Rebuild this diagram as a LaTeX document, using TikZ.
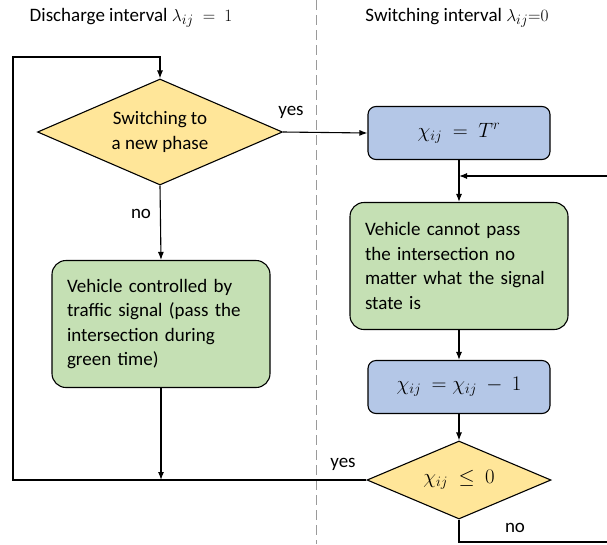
\documentclass[tikz,border=0pt]{standalone}
\usepackage{fontspec}
\setmainfont{Carlito}
\usetikzlibrary{shapes.geometric,arrows.meta}
\definecolor{decfill}{HTML}{FFE699}
\definecolor{bluefill}{HTML}{B4C7E7}
\definecolor{greenfill}{HTML}{C5E0B4}
\definecolor{divider}{HTML}{9A9A9A}
\tikzset{
  base/.style={font=\fontsize{19}{24.5}\selectfont},
  decision/.style={base, diamond, draw=black, line width=1.1pt, fill=decfill,
    inner sep=0pt, aspect=2.3, align=center},
  calcbox/.style={base, draw=black, line width=1.1pt, fill=bluefill,
    rounded corners=8pt, minimum width=182pt, minimum height=53pt},
  actbox/.style={base, draw=black, line width=1.1pt, fill=greenfill,
    rounded corners=14pt, minimum width=218pt, minimum height=127pt,
    text width=188pt, align=left, inner sep=0pt},
  arr/.style={line width=1.1pt, -{Latex[length=8pt,width=6pt]}},
  lbl/.style={base, inner sep=0pt},
  formula/.style={font=\fontsize{21}{24.5}\selectfont},
}
\begin{document}
\begin{tikzpicture}[x=1pt,y=-1pt]
\useasboundingbox (0,0) rectangle (607,544);

% column divider and headings
\draw[divider, line width=1pt, dash pattern=on 10pt off 5pt] (316,0) -- (316,544);
\node[lbl] (hl) at (131,18) {Discharge interval $\lambda_{ij}\ =\ 1$};
\node[lbl] (hr) at (457,18) {Switching interval $\lambda_{ij}{=}0$};

% left column
\node[decision, minimum width=245pt, minimum height=106pt] (d1) at (160,132)
  {Switching to\\a new phase};
\node[actbox] (g1) at (161,324)
  {Vehicle controlled by\\traffic signal (pass the\\intersection during\\green time)};

% right column
\node[calcbox, formula] (b1) at (459,133) {$\chi_{ij}\ =\ T^{r}$};
\node[actbox] (g2) at (459,266)
  {Vehicle cannot pass\\the intersection no\\matter what the signal\\state is};
\node[calcbox, formula] (b3) at (459,387) {$\chi_{ij}\ =\chi_{ij}\ -\ 1$};
\node[decision, formula, minimum width=184pt, minimum height=78pt] (d2) at (459,480)
  {$\chi_{ij}\ \le\ 0$};

% routing points
\coordinate (loopL) at (13,480);
\coordinate (loopT) at (160,57);
\coordinate (merge) at (459,176);
\coordinate (loopR) at (625,542);

% connectors
\draw[arr] (d1.east) -- (b1.west);
\draw[arr] (d1.south) -- (g1.north);
\draw[arr] (b1.south) -- (g2.north);
\draw[arr] (g2.south) -- (b3.north);
\draw[arr] (b3.south) -- (d2.north);
\draw[arr] (g1.south) -- (g1.south |- loopL);
\draw[arr] (d2.west) -- (loopL) |- (loopT) -- (d1.north);
\draw[arr] (d2.south) |- (loopR) |- (merge);

% branch labels
\node[lbl] (y1) at (291,112) {yes};
\node[lbl] (n1) at (141,214) {no};
\node[lbl] (y2) at (343,464) {yes};
\node[lbl] (n2) at (515,528) {no};
\end{tikzpicture}
\end{document}
